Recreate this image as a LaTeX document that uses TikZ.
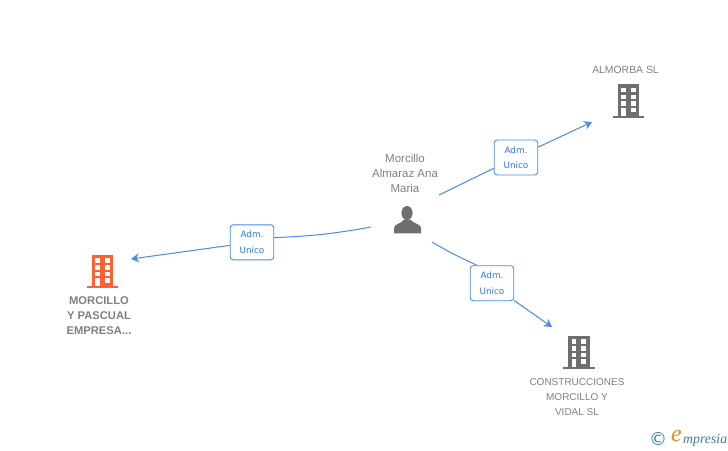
\documentclass[tikz,border=0pt]{standalone}
\usepackage{fontspec}
\usepackage{xcolor}
\usepackage{tikz}
\usetikzlibrary{arrows.meta}
\setmainfont{Liberation Sans}
\newfontfamily\admfont{DejaVu Sans}
\newfontfamily\logofont{Liberation Serif}
\definecolor{edge}{HTML}{4A8AE6}
\definecolor{edgetext}{HTML}{2F78D8}
\definecolor{muted}{HTML}{808080}
\definecolor{iconbase}{HTML}{6F6F6F}
\definecolor{main}{HTML}{FF5F33}
\definecolor{logoblue}{HTML}{3F7F9F}
\definecolor{logoorange}{HTML}{F28A1E}
\tikzset{
  rel/.style={draw=edge, line width=1pt},
  relto/.style={rel, -{Stealth[length=8pt,width=9pt]}},
  adm/.style={draw=edge, fill=white, line width=0.9pt, rounded corners=3pt, minimum width=43.5pt,
    minimum height=35pt, inner sep=0pt, align=center, text=edgetext,
    font=\admfont\fontsize{8.8}{15.5}\selectfont},
  lab/.style={text=muted, align=center, inner sep=0pt, font=\fontsize{10}{15}\selectfont},
  labp/.style={lab, font=\fontsize{11.5}{15}\selectfont},
  labm/.style={lab, font=\bfseries\fontsize{11.2}{15}\selectfont},
  building/.pic={
    \fill[#1] (-10.8,-16.7) rectangle (11,14.7);
    \fill[#1] (-15.8,14.7) rectangle (15.7,16.7);
    \foreach \wy in {-13.3,-6.3,0,6.7}
      \fill[white] (-7.5,\wy) rectangle (-2.7,\wy+4.6);
    \foreach \wy in {-13.3,-6.3,0,6.7}
      \fill[white] (2.4,\wy) rectangle (7.2,\wy+4.6);
    \fill[white] (-7,6.7) rectangle (-2.7,14.7);
  },
  person/.pic={
    \fill[iconbase] (-0.7,-7.5) ellipse (5.6 and 7);
    \fill[iconbase] (-13.7,12.8) -- (-13.7,7.5) .. controls (-13.5,3.5) and (-7,3.5) .. (-3.5,-1)
      -- (2.5,-1) .. controls (6,3.5) and (13.5,3.5) .. (13.3,7.5) -- (13.3,12.8) -- cycle;
  },
}
\begin{document}
\begin{tikzpicture}[x=1pt,y=-1pt]
  \useasboundingbox[fill=white] (0,0) rectangle (728,450);
  % free ends of the connectors
  \coordinate (persontop) at (439,195);
  \coordinate (personleft) at (371,227);
  \coordinate (personlow) at (432,242);
  \coordinate (almorbaend) at (592,122);
  \coordinate (morcilloend) at (131,259);
  \coordinate (construend) at (552,327);
  % boxes
  \node[adm] (admtop) at (516,157.5) {Adm.\\Unico};
  \node[adm] (admleft) at (252,242.3) {Adm.\\Unico};
  \node[adm] (admlow) at (492,283.2) {Adm.\\Unico};
  % connectors
  \draw[rel] (persontop) -- (admtop);
  \draw[relto] (admtop) -- (almorbaend);
  \draw[rel] (personleft) to[bend left=4] (admleft.12);
  \draw[relto] (admleft) -- (morcilloend);
  \draw[rel] (personlow) to[bend right=3] (admlow.130);
  \draw[relto] (admlow.-38) -- (construend);
  % icons
  \pic at (628.3,101) {building=iconbase};
  \pic at (102.3,271.7) {building=main};
  \pic at (579,352.7) {building=iconbase};
  \pic at (407.7,220.5) {person};
  % labels
  \node[labp] (personlab) at (405,173) {Morcillo\\Almaraz Ana\\Maria};
  \node[lab, font=\fontsize{10.4}{15}\selectfont] (almorbalab) at (625.5,70) {ALMORBA SL};
  \node[lab] (construlab) at (577,397) {CONSTRUCCIONES\\MORCILLO Y\\VIDAL SL};
  \node[labm] (morcillolab) at (99,316) {MORCILLO\\Y PASCUAL\\EMPRESA...};
  % logo
  \node[text=logoblue, inner sep=0pt, font=\admfont\fontsize{18}{18}\selectfont] (logoc) at (658,438.5) {©};
  \node[text=logoorange, inner sep=0pt, font=\logofont\itshape\fontsize{24}{24}\selectfont] (logoe) at (676.5,436) {e};
  \node[text=logoblue, inner sep=0pt, anchor=base west, font=\logofont\itshape\fontsize{13.8}{14}\selectfont] (logotxt) at (683,443) {mpresia};
\end{tikzpicture}
\end{document}
